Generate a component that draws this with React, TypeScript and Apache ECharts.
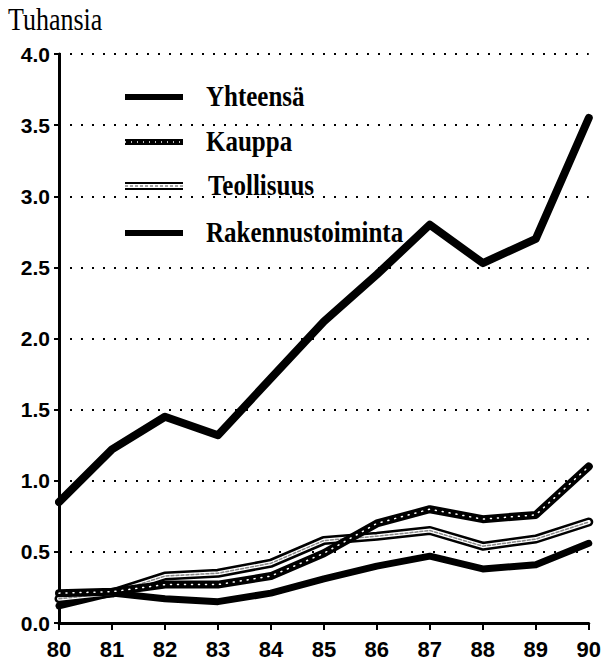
import React, { useEffect, useRef } from "react";
import * as echarts from "echarts";

const years = ["80", "81", "82", "83", "84", "85", "86", "87", "88", "89", "90"];
const yhteensa = [0.85, 1.22, 1.45, 1.32, 1.72, 2.12, 2.45, 2.8, 2.53, 2.7, 3.55];
const kauppa = [0.21, 0.22, 0.27, 0.27, 0.33, 0.49, 0.7, 0.8, 0.73, 0.76, 1.1];
const teollisuus = [0.17, 0.21, 0.33, 0.35, 0.42, 0.58, 0.61, 0.65, 0.54, 0.59, 0.71];
const rakennus = [0.12, 0.21, 0.17, 0.15, 0.21, 0.31, 0.4, 0.47, 0.38, 0.41, 0.56];
const legendNames = ["Yhteensä", "Kauppa", "Teollisuus", "Rakennustoiminta"];
const yUnit = "Tuhansia";

const SERIF = '"Liberation Serif", "Times New Roman", serif';
const SANS = '"Liberation Sans", Arial, sans-serif';

export default function App() {
  const ref = useRef<HTMLDivElement>(null);
  useEffect(() => {
    if (!ref.current) return;
    const chart = echarts.init(ref.current, null, { renderer: "svg" });
    const line = (name: string, data: number[], color: string, width: number, dash?: any, z = 2) => ({
      type: "line",
      name,
      data,
      symbol: "none",
      z,
      lineStyle: { color, width, type: dash || "solid", cap: "round", join: "round" },
      silent: true,
    });
    const legendY = [97, 142, 186, 233];
    const lx1 = 125, lx2 = 183, tx = 206;
    const legendGraphics: any[] = [];
    const addLine = (y: number, stroke: string, w: number, dash?: number[]) =>
      legendGraphics.push({
        type: "line",
        shape: { x1: lx1, y1: y, x2: lx2, y2: y },
        style: { stroke, lineWidth: w, lineDash: dash },
      });
    addLine(legendY[0], "#000", 6);
    addLine(legendY[1], "#000", 6);
    addLine(legendY[1], "#fff", 1.5, [1, 5]);
    addLine(legendY[2], "#000", 8);
    addLine(legendY[2], "#fff", 4);
    addLine(legendY[2], "#888", 1.5, [3, 2]);
    addLine(legendY[3], "#000", 6);
    legendNames.forEach((n, i) =>
      legendGraphics.push({
        type: "text",
        x: i === 2 ? tx + 2 : tx,
        y: legendY[i] - 1,
        scaleY: 1.22,
        style: { text: n, font: `bold 25px ${SERIF}`, fill: "#000", align: "left", verticalAlign: "middle" },
      })
    );
    legendGraphics.push({
      type: "text",
      x: 8,
      y: 19,
      scaleY: 1.2,
      style: { text: yUnit, font: `26px ${SERIF}`, fill: "#000", align: "left", verticalAlign: "middle" },
    });

    chart.setOption({
      animation: false,
      backgroundColor: "#fff",
      grid: { left: 59, right: 11, top: 54, bottom: 34, containLabel: false },
      xAxis: {
        type: "category",
        data: years,
        boundaryGap: false,
        axisLine: { lineStyle: { color: "#000", width: 3 } },
        axisTick: { show: true, length: 7, lineStyle: { color: "#000", width: 2 } },
        axisLabel: { color: "#000", fontFamily: SANS, fontWeight: "bold", fontSize: 22, margin: 15, interval: 0 },
        splitLine: { show: false },
      },
      yAxis: {
        type: "value",
        min: 0,
        max: 4,
        interval: 0.5,
        axisLine: { show: true, lineStyle: { color: "#000", width: 3 } },
        axisTick: { show: true, length: 5, lineStyle: { color: "#000", width: 2 } },
        axisLabel: {
          color: "#000",
          fontFamily: SANS,
          fontWeight: "bold",
          fontSize: 21,
          margin: 9,
          formatter: (v: number) => v.toFixed(1),
        },
        splitLine: { show: true, lineStyle: { color: "#000", width: 2, type: [2, 9] } },
      },
      series: [
        line("Yhteensä", yhteensa, "#000", 8),
        line("Rakennustoiminta", rakennus, "#000", 7),
        line("Teollisuus", teollisuus, "#000", 9, undefined, 3),
        line("Teollisuus-inner", teollisuus, "#fff", 4, undefined, 4),
        line("Teollisuus-dash", teollisuus, "#888", 1.5, [3, 2], 5),
        line("Kauppa", kauppa, "#000", 8, undefined, 6),
        line("Kauppa-dots", kauppa, "#fff", 1.5, [1, 6], 7),
      ],
      graphic: legendGraphics,
    });
    return () => chart.dispose();
  }, []);
  return <div ref={ref} style={{ width: 604, height: 660, position: "absolute", left: 0, top: 0 }} />;
}
